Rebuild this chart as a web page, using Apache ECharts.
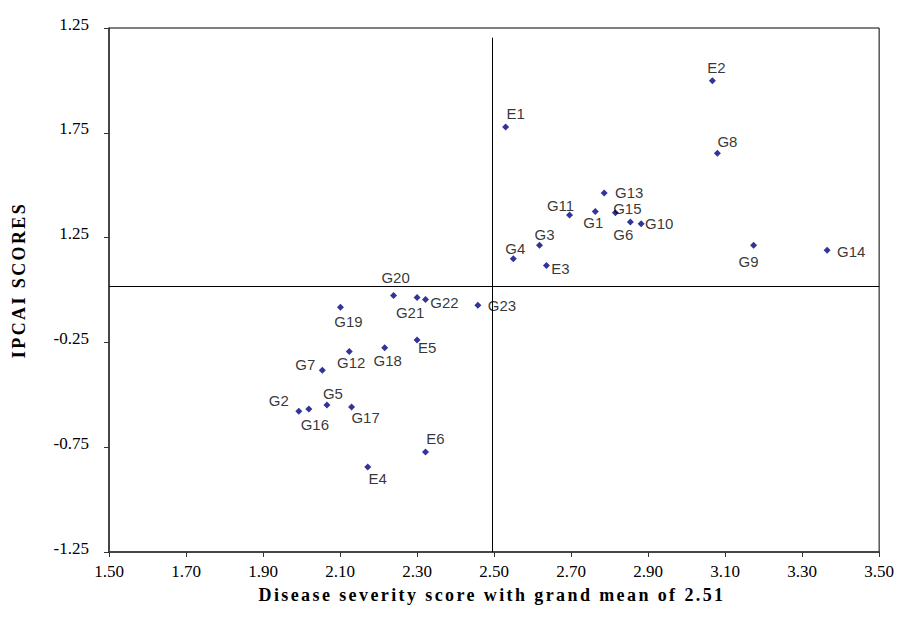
<!DOCTYPE html>
<html><head><meta charset="utf-8">
<script src="https://cdn.jsdelivr.net/npm/echarts@6/dist/echarts.min.js"></script>
<style>html,body{margin:0;padding:0;background:#fff}#c{width:897px;height:619px}</style>
</head><body><div id="c"></div>
<script>
// ---- data ----
const names   = ['E1','E2','E3','E4','E5','E6','G1','G2','G3','G4','G5','G6','G7','G8','G9','G10','G11','G12','G13','G14','G15','G16','G17','G18','G19','G20','G21','G22','G23'];
const xValues = [2.530,3.067,2.636,2.172,2.300,2.322,2.763,1.993,2.618,2.550,2.066,2.854,2.054,3.080,3.174,2.882,2.696,2.124,2.786,3.365,2.815,2.019,2.130,2.216,2.101,2.239,2.300,2.322,2.458];
const yValues = [0.778,0.998,0.117,-0.845,-0.238,-0.773,0.375,-0.578,0.214,0.149,-0.549,0.324,-0.383,0.652,0.214,0.316,0.358,-0.294,0.463,0.190,0.369,-0.568,-0.558,-0.276,-0.082,-0.026,-0.036,-0.045,-0.073];
const xTickLabels = ['1.50','1.70','1.90','2.10','2.30','2.50','2.70','2.90','3.10','3.30','3.50'];
const yTickLabels = ['-1.25','-0.75','-0.25','1.25','1.75','1.25'];
const meanX = 2.495;
const meanY = 0.02;
const xMin = 1.5, xMax = 3.5, xStep = 0.2;
const yMin = -1.25, yMax = 1.25, yStep = 0.5;
const vLineTop = 1.204;

// ---- layout (label offsets in px, not data) ----
const labelOffsets = {
  E2:[4,-13], E1:[10,-13], G8:[10,-12], G13:[25,0], G11:[-9,-9], G1:[-2,11], G15:[12,-4],
  G6:[-7,12], G10:[18,0], G3:[5,-11], G4:[2,-10], E3:[14,3], G9:[-5,16], G14:[24,1],
  G20:[2,-18], G21:[-7,15], G22:[19,3], G23:[24,0], G19:[8,14], E5:[10,8], G18:[3,13],
  G12:[2,11], G7:[-17,-6], G2:[-20,-11], G16:[6,15], G5:[6,-12], G17:[14,11], E6:[10,-14], E4:[10,11]
};

const chart = echarts.init(document.getElementById('c'), null, {renderer:'svg'});
const xName = 'Disease severity score with grand mean of 2.51';
const yName = 'IPCAI SCORES';

const data = names.map((n,i)=>({
  name:n, value:[xValues[i]-xMin, yValues[i]-yMin],
  label:{offset: labelOffsets[n]}
}));

chart.setOption({
  animation:false,
  grid:{left:109, right:16, top:28, bottom:67, show:true, borderColor:'#000', borderWidth:1, backgroundColor:'transparent'},
  xAxis:{
    type:'value', min:0, max:xMax-xMin, interval:xStep,
    axisLine:{show:true, onZero:false, lineStyle:{color:'#333', width:1.5}},
    axisTick:{show:true, length:5, inside:false, lineStyle:{color:'#333'}},
    splitLine:{show:false},
    axisLabel:{margin:11, fontFamily:'Liberation Serif', fontSize:17, color:'#000',
      formatter:v=>xTickLabels[Math.round(v/xStep)]}
  },
  yAxis:{
    type:'value', min:0, max:yMax-yMin, interval:yStep,
    axisLine:{show:true, onZero:false, lineStyle:{color:'#333', width:1.5}},
    axisTick:{show:true, length:5, inside:false, lineStyle:{color:'#333'}},
    splitLine:{show:false},
    axisLabel:{margin:20, color:'#000',
      formatter:v=>'{t|'+yTickLabels[Math.round(v/yStep)]+'}',
      rich:{t:{fontFamily:'Liberation Serif', fontSize:17, color:'#000', padding:[0,0,8,0]}}}
  },
  graphic:[
    {type:'text', x:492, y:595, style:{text:xName, x:0, y:0, align:'center', verticalAlign:'middle', font:'bold 18px "Liberation Serif"', fill:'#000'}},
    {type:'text', x:19, y:280, rotation:Math.PI/2, style:{text:yName, x:0, y:0, align:'center', verticalAlign:'middle', font:'bold 18px "Liberation Serif"', fill:'#000'}}
  ],
  series:[{
    type:'scatter', symbol:'diamond', symbolSize:7,
    itemStyle:{color:'#000080'},
    label:{show:true, position:'inside', formatter:'{b}', fontFamily:'Liberation Sans', fontSize:15, color:'#000', align:'center', verticalAlign:'middle'},
    emphasis:{disabled:true},
    data:data,
    markLine:{
      silent:true, symbol:'none', label:{show:false},
      lineStyle:{color:'#000', width:1, type:'solid'},
      data:[
        [{coord:[meanX-xMin, 0]},{coord:[meanX-xMin, vLineTop-yMin]}],
        [{coord:[0, meanY-yMin]},{coord:[xMax-xMin, meanY-yMin]}]
      ]
    }
  }]
});

function spaceNames(){
  document.querySelectorAll('#c text').forEach(t=>{
    const s=t.textContent;
    if(s===xName||s===yName){t.style.letterSpacing='2.4px';}
  });
}
spaceNames();
chart.on('finished', spaceNames);
</script></body></html>
